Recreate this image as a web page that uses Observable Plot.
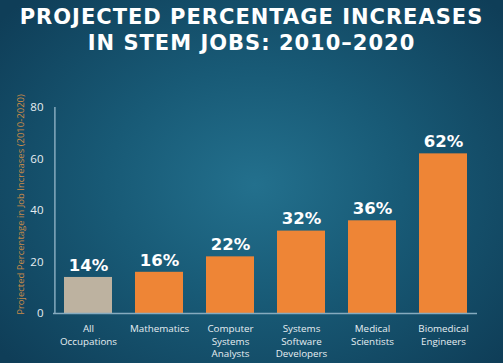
<!DOCTYPE html>
<html>
<head>
<meta charset="utf-8">
<script src="https://cdn.jsdelivr.net/npm/d3@7"></script>
<script src="https://cdn.jsdelivr.net/npm/@observablehq/plot@0.6"></script>
<style>
  html, body { margin: 0; padding: 0; }
  #wrap {
    position: relative; width: 503px; height: 363px; overflow: hidden;
    background: radial-gradient(ellipse 330px 260px at 255px 185px, #23708d 0%, #185a76 45%, #0f3e58 100%);
    font-family: "DejaVu Sans", sans-serif;
  }
  #title {
    position: absolute; left: 0; top: 4px; width: 503px; text-align: center;
    color: #ffffff; font-weight: bold; font-size: 21px; line-height: 26px; letter-spacing: 1px;
    font-family: "DejaVu Sans", sans-serif;
  }
  #chart { position: absolute; left: 0; top: 0; }
</style>
</head>
<body>
<div id="wrap">
  <div id="title">PROJECTED PERCENTAGE INCREASES<br>IN STEM JOBS: 2010–2020</div>
  <div id="chart"></div>
</div>
<script>
const categories = ["All\nOccupations", "Mathematics", "Computer\nSystems\nAnalysts", "Systems\nSoftware\nDevelopers", "Medical\nScientists", "Biomedical\nEngineers"];
const values = [14, 16, 22, 32, 36, 62];
const valueLabels = ["14%", "16%", "22%", "32%", "36%", "62%"];
const barColors = ["#bdb2a0", "#ee8536", "#ee8536", "#ee8536", "#ee8536", "#ee8536"];
const yTicks = [0, 20, 40, 60, 80];
const yLabel = "Projected Percentage in Job Increases (2010-2020)";

const data = categories.map((c, i) => ({cat: c, value: values[i], label: valueLabels[i], color: barColors[i]}));

const plot = Plot.plot({
  width: 503,
  height: 363,
  marginTop: 107,
  marginBottom: 50,
  marginLeft: 53,
  marginRight: 26,
  style: {background: "transparent", color: "#e6eef2", fontFamily: "'Open Sans', sans-serif"},
  x: {domain: categories, paddingInner: 0.33, paddingOuter: 0.135, label: null},
  y: {domain: [0, 80], label: null},
  marks: [
    Plot.barY(data, {x: "cat", y: "value", fill: "color"}),
    Plot.ruleY([0], {stroke: "#86abbf", strokeWidth: 1.5}),
    Plot.ruleX([0], {stroke: "#86abbf", strokeWidth: 1.5, x: () => categories[0], dx: -33.6, y1: 0, y2: 80}),
    Plot.text(data, {x: "cat", y: "value", text: "label", dy: -12, fill: "white", fontWeight: "bold", fontSize: 16.5, fontFamily: "'DejaVu Sans', sans-serif"}),
    Plot.axisY({ticks: yTicks, tickSize: 0, tickPadding: 10, fontSize: 11.5, fill: "#e6eef2", label: null}),
    Plot.axisX({tickSize: 0, tickPadding: 10, fontSize: 9.8, fill: "#e6eef2", lineHeight: 1.27, label: null}),
    Plot.text([yLabel], {frameAnchor: "left", dx: -33, dy: -6, rotate: -90, textAnchor: "middle", fill: "#c88a48", fontSize: 9.5, text: d => d})
  ]
});
document.getElementById("chart").appendChild(plot);
</script>
</body>
</html>
